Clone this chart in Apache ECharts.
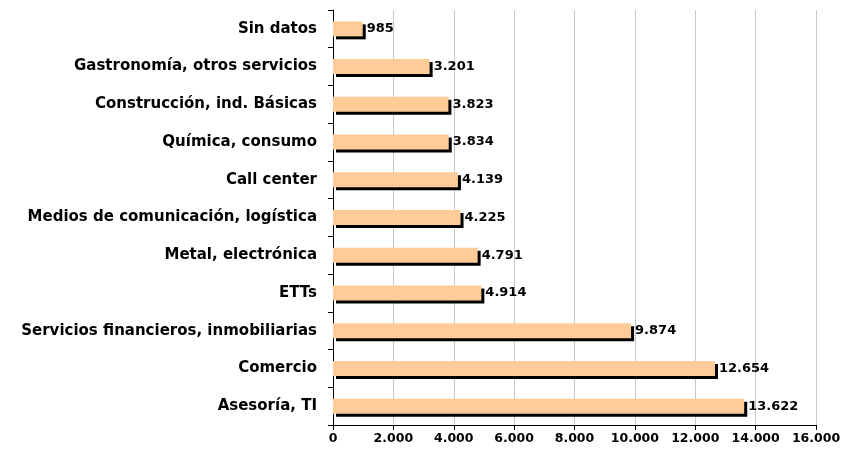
<!DOCTYPE html>
<html>
<head>
<meta charset="utf-8">
<script src="https://cdn.jsdelivr.net/npm/echarts@6/dist/echarts.min.js"></script>
<style>
html, body { margin: 0; padding: 0; background: #fff; }
#chart { width: 865px; height: 461px; }
</style>
</head>
<body>
<div id="chart"></div>
<script>
// categories, top to bottom as in the picture
var sectores = ['Sin datos', 'Gastronomía, otros servicios', 'Construcción, ind. Básicas',
    'Química, consumo', 'Call center', 'Medios de comunicación, logística',
    'Metal, electrónica', 'ETTs', 'Servicios financieros, inmobiliarias',
    'Comercio', 'Asesoría, TI'];
var valores = [985, 3201, 3823, 3834, 4139, 4225, 4791, 4914, 9874, 12654, 13622];

var fuente = 'DejaVu Sans';

// 12654 -> "12.654"
function miles(v) {
    return String(v).replace(/\B(?=(\d{3})+(?!\d))/g, '.');
}

var option = {
    backgroundColor: '#ffffff',
    animation: false,
    grid: {
        left: 333,
        right: 49,
        top: 10,
        bottom: 36
    },
    xAxis: {
        type: 'value',
        min: 0,
        max: 16000,
        interval: 2000,
        axisLine: { show: true, lineStyle: { color: '#000', width: 1 } },
        axisTick: { show: true, length: 5, lineStyle: { color: '#000' } },
        splitLine: { show: true, lineStyle: { color: '#c8c8c8', width: 1 } },
        axisLabel: {
            margin: 7,
            color: '#000',
            fontFamily: fuente,
            fontWeight: 'bold',
            fontSize: 12.5,
            formatter: function (v) { return miles(v); }
        }
    },
    yAxis: {
        type: 'category',
        inverse: true,
        data: sectores,
        axisLine: { show: true, lineStyle: { color: '#000', width: 1 } },
        axisTick: { show: true, length: 5, lineStyle: { color: '#000' } },
        splitLine: { show: false },
        axisLabel: {
            margin: 16,
            color: '#000',
            fontFamily: fuente,
            fontWeight: 'bold',
            fontSize: 15
        }
    },
    series: [{
        type: 'bar',
        data: valores,
        barWidth: 15,
        itemStyle: {
            color: '#ffcc99',
            shadowColor: '#000',
            shadowBlur: 0,
            shadowOffsetX: 3,
            shadowOffsetY: 3
        },
        label: {
            show: true,
            position: 'right',
            distance: 4,
            color: '#000',
            fontFamily: fuente,
            fontWeight: 'bold',
            fontSize: 13,
            formatter: function (p) { return miles(p.value); }
        }
    }]
};

var myChart = echarts.init(document.getElementById('chart'));
myChart.setOption(option, true);
</script>
</body>
</html>
